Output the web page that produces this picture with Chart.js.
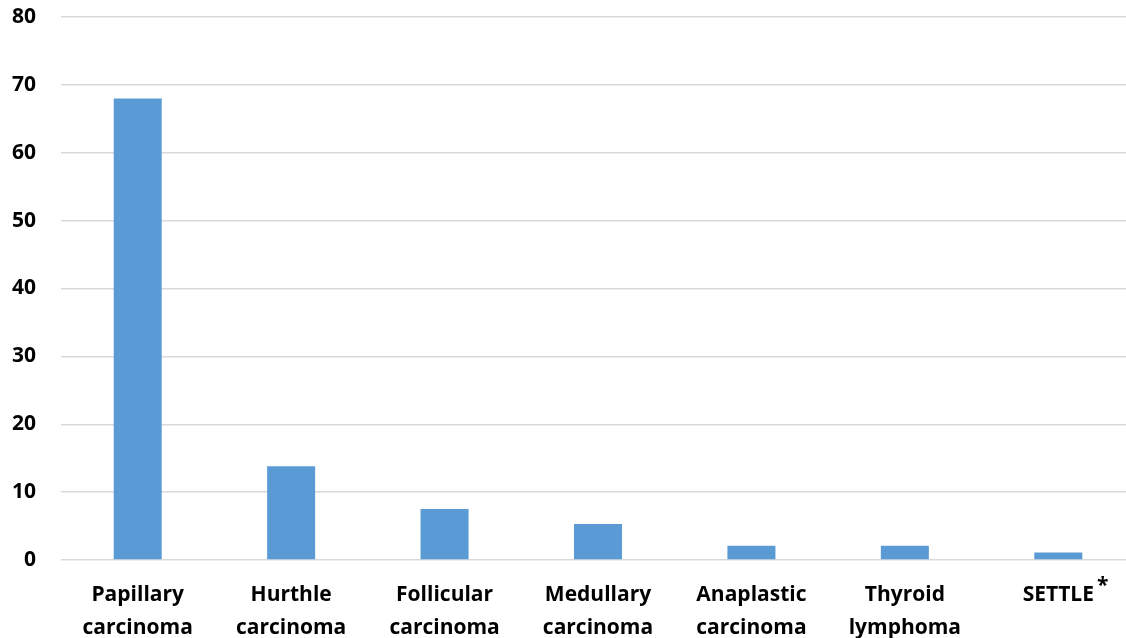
<!DOCTYPE html>
<html>
<head>
<meta charset="utf-8">
<script src="https://cdn.jsdelivr.net/npm/chart.js@4"></script>
<style>
    html, body { margin: 0; padding: 0; background: #fff; overflow: hidden; }
    #wrap { width: 1136px; height: 638px; position: relative; }
</style>
</head>
<body>
<div id="wrap"><canvas id="myChart"></canvas></div>
<script>
// categories (two lines each)
const categories = [
    ['Papillary', 'carcinoma'],
    ['Hurthle', 'carcinoma'],
    ['Follicular', 'carcinoma'],
    ['Medullary', 'carcinoma'],
    ['Anaplastic', 'carcinoma'],
    ['Thyroid', 'lymphoma'],
    ['SETTLE', '']
];

const values = [68, 13.8, 7.5, 5.3, 2.1, 2.1, 1.1];

const yMin = 0;
const yMax = 80;
const yStep = 10;

const barColor = '#5b9bd5';
const gridColor = '#d9d9d9';
const fontFamily = '"Open Sans", sans-serif';
const fontSize = 21;

// raised asterisk after SETTLE
const asteriskPlugin = {
    id: 'asterisk',
    afterDraw(chart) {
        const ctx = chart.ctx;
        const xs = chart.scales.x;
        const idx = categories.length - 1;
        const x = xs.getPixelForTick(idx);
        ctx.save();
        ctx.font = 'bold ' + fontSize + 'px ' + fontFamily;
        const w = ctx.measureText(categories[idx][0]).width;
        ctx.fillStyle = '#000';
        ctx.textAlign = 'left';
        ctx.textBaseline = 'middle';
        ctx.fillText('*', x + w / 2 + 3, xs.top + 19 + 7);
        ctx.restore();
    }
};

const chartData = {
    labels: categories,
    datasets: [{
        label: 'count',
        data: values,
        backgroundColor: barColor,
        borderWidth: 0,
        categoryPercentage: 1,
        barPercentage: 0.313
    }]
};

const config = {
    type: 'bar',
    data: chartData,
    plugins: [asteriskPlugin],
    options: {
        responsive: true,
        maintainAspectRatio: false,
        animation: false,
        layout: {
            padding: { top: 17, left: 0, right: 1, bottom: 0 }
        },
        scales: {
            x: {
                grid: { display: false, drawTicks: false },
                border: { display: false },
                afterFit: s => { s.height = 78; s.paddingLeft = 0; s.paddingRight = 0; },
                ticks: {
                    color: '#000',
                    padding: 19,
                    maxRotation: 0,
                    autoSkip: false,
                    font: { family: fontFamily, size: fontSize, weight: 'bold', lineHeight: 1.55 }
                }
            },
            y: {
                min: yMin,
                max: yMax,
                grid: { color: gridColor, lineWidth: 1.5, drawTicks: false },
                border: { display: false },
                afterFit: s => { s.width = 61; s.paddingTop = 0; s.paddingBottom = 0; },
                ticks: {
                    stepSize: yStep,
                    color: '#000',
                    padding: 25,
                    font: { family: fontFamily, size: fontSize, weight: 'bold' }
                }
            }
        },
        plugins: {
            legend: { display: false },
            tooltip: { enabled: false }
        }
    }
};

new Chart(document.getElementById('myChart'), config);
</script>
</body>
</html>
